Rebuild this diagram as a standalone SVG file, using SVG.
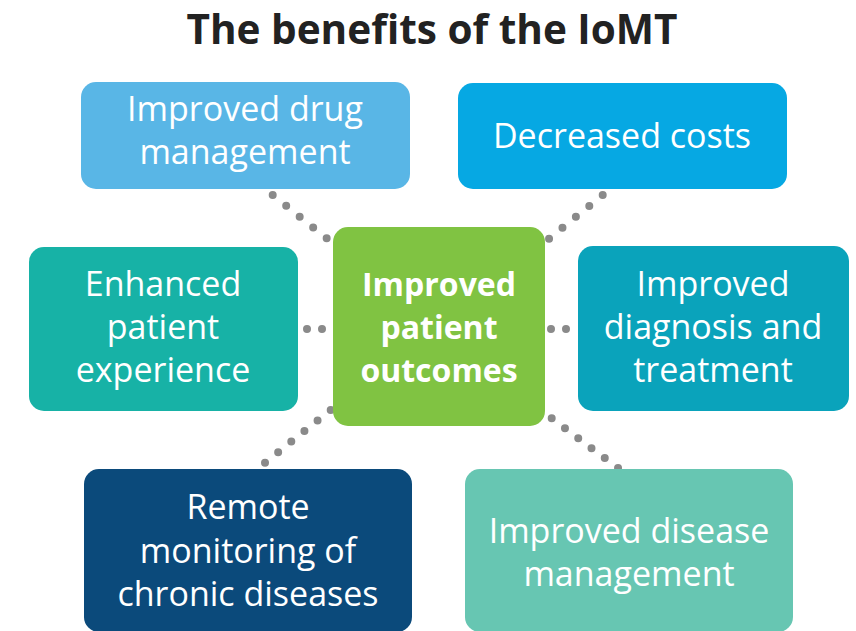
<svg xmlns="http://www.w3.org/2000/svg" width="856" height="631" viewBox="0 0 856 631">
<style>
.title{font-family:"Open Sans","DejaVu Sans",sans-serif;font-weight:700;font-size:40.5px;fill:#222;text-anchor:middle}
.lbl{font-family:"Open Sans","DejaVu Sans",sans-serif;font-size:34px;fill:#fff;text-anchor:middle}
.bold{font-weight:700;font-size:32px}
.dots{fill:none;stroke:#8a8a8a;stroke-width:8;stroke-linecap:round}
</style>
<rect width="856" height="631" fill="#fff"/>
<text class="title" x="432" y="44">The benefits of the IoMT</text>
<g id="connectors">
<path class="dots" d="M272.7 195 L327 238.6" stroke-dasharray="0 17.3"/>
<path class="dots" d="M602.7 195 L548.7 239" stroke-dasharray="0 17.3"/>
<path class="dots" d="M307 329 L322.5 329" stroke-dasharray="0 15"/>
<path class="dots" d="M551 329 L566.5 329" stroke-dasharray="0 15"/>
<path class="dots" d="M330.7 410 L264.6 463" stroke-dasharray="0 16.84"/>
<path class="dots" d="M551.7 418.3 L618.4 468.3" stroke-dasharray="0 16.58"/>
</g>
<g id="drug">
<rect x="81" y="82" width="329" height="107" rx="15" fill="#59b6e6"/>
<text class="lbl" x="245" y="121">Improved drug</text>
<text class="lbl" x="245" y="164">management</text>
</g>
<g id="costs">
<rect x="458" y="83" width="329" height="106" rx="15" fill="#06a8e3"/>
<text class="lbl" x="622" y="148">Decreased costs</text>
</g>
<g id="experience">
<rect x="29" y="247" width="269" height="164" rx="15" fill="#17b2a6"/>
<text class="lbl" x="163" y="296">Enhanced</text>
<text class="lbl" x="163" y="339">patient</text>
<text class="lbl" x="163" y="382">experience</text>
</g>
<g id="outcomes">
<rect x="333" y="227" width="212" height="199" rx="15" fill="#80c342"/>
<text class="lbl bold" x="439" y="296">Improved</text>
<text class="lbl bold" x="439" y="339">patient</text>
<text class="lbl bold" x="439" y="382">outcomes</text>
</g>
<g id="diagnosis">
<rect x="578" y="246" width="271" height="165" rx="15" fill="#0aa3bb"/>
<text class="lbl" x="713" y="296">Improved</text>
<text class="lbl" x="713" y="339">diagnosis and</text>
<text class="lbl" x="713" y="382">treatment</text>
</g>
<g id="remote">
<rect x="84" y="469" width="328" height="163" rx="15" fill="#0b4a7b"/>
<text class="lbl" x="248" y="519">Remote</text>
<text class="lbl" x="248" y="563">monitoring of</text>
<text class="lbl" x="248" y="606">chronic diseases</text>
</g>
<g id="disease">
<rect x="465" y="469" width="328" height="163" rx="15" fill="#67c6b2"/>
<text class="lbl" x="629" y="543">Improved disease</text>
<text class="lbl" x="629" y="586">management</text>
</g>
</svg>
